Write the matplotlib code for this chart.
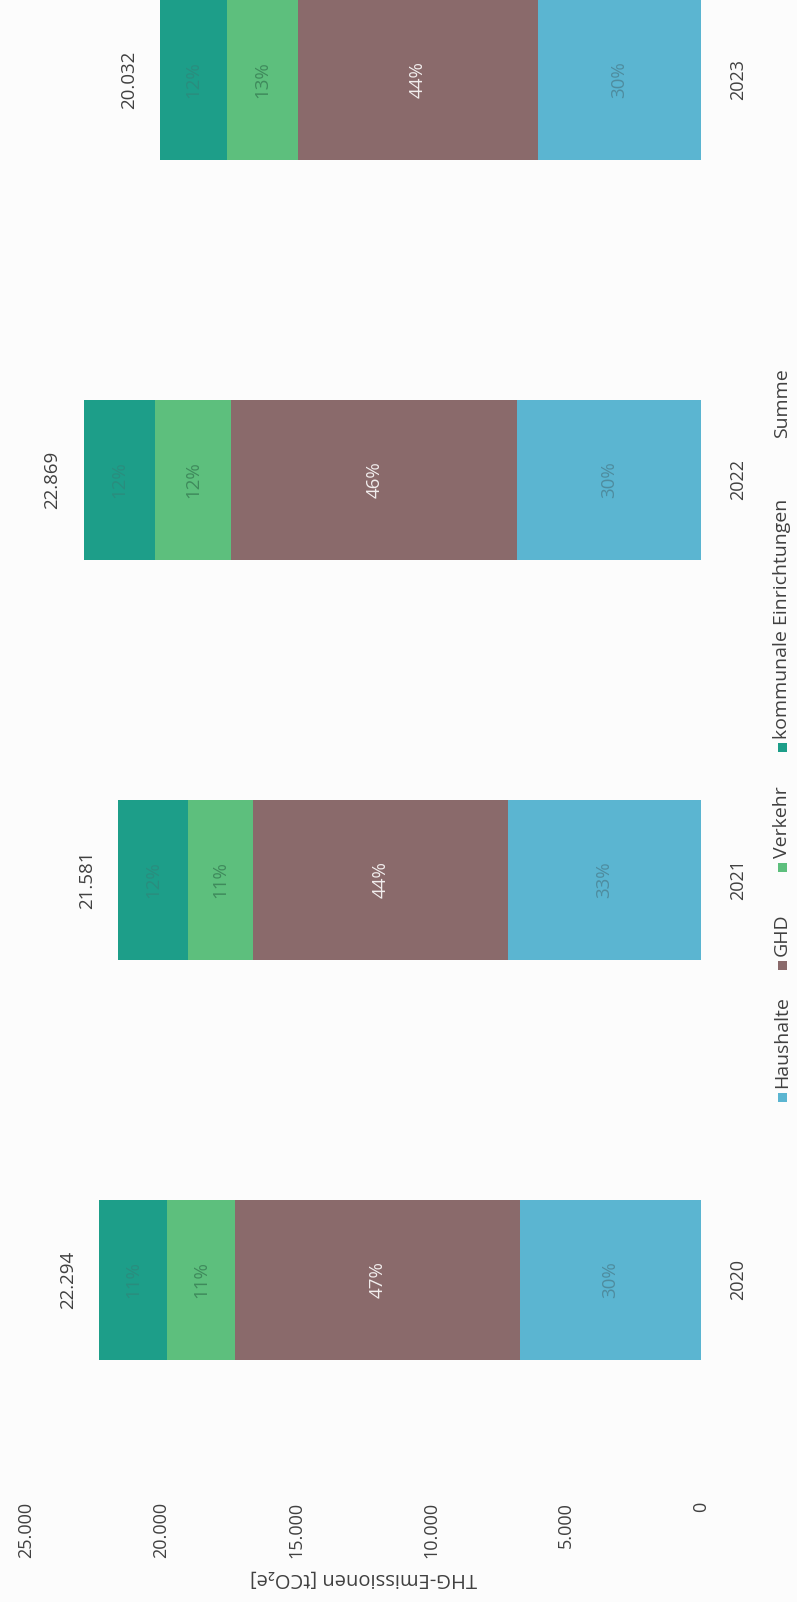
import matplotlib
matplotlib.use("Agg")
import matplotlib.pyplot as plt
from matplotlib.patches import Rectangle

# --- data -------------------------------------------------------------
years = ["2020", "2021", "2022", "2023"]
series_names = ["Haushalte", "GHD", "Verkehr", "kommunale Einrichtungen"]
haushalte = [6700, 7145, 6815, 6050]
ghd = [10550, 9430, 10580, 8870]
verkehr = [2540, 2440, 2820, 2640]
kommunal = [2504, 2566, 2654, 2472]
value_ticks = [0, 5000, 10000, 15000, 20000, 25000]
legend_extra = "Summe"

# --- style ------------------------------------------------------------
colors = ["#5bb5d1", "#8a6a6b", "#5dbf7d", "#1d9e89"]
pct_colors = ["#4e8c9f", "#f2eeee", "#3f8a5c", "#2a8d7e"]
text_col = "#404040"
FONT = ["Open Sans", "DejaVu Sans"]
plt.rcParams["font.family"] = FONT

W, H, DPI = 797, 1602, 100
fig = plt.figure(figsize=(W / DPI, H / DPI), dpi=DPI, facecolor="#fcfcfc")

# axes placed in pixel terms (value axis runs right-to-left, categories bottom-to-top)
x0_px, x1_px = 26, 701
ax_top_px, ax_bot_px = -120, 1480
ax = fig.add_axes([x0_px / W, 1 - ax_bot_px / H,
                   (x1_px - x0_px) / W, (ax_bot_px - ax_top_px) / H])
ax.set_facecolor("none")
ax.set_xlim(25000, 0)
ax.set_ylim(-0.5, 3.5)

series = [haushalte, ghd, verkehr, kommunal]
ypos = list(range(len(years)))
totals = [sum(v) for v in zip(*series)]
bar_h = 0.4

left = [0] * len(years)
for vals, col, pcol in zip(series, colors, pct_colors):
    ax.barh(ypos, vals, height=bar_h, left=left, color=col, edgecolor="none")
    for i, v in enumerate(vals):
        pct = round(v / totals[i] * 100)
        ax.text(left[i] + v / 2, ypos[i], f"{pct}%", rotation=90,
                ha="center", va="center", fontsize=13.5, color=pcol)
    left = [l + v for l, v in zip(left, vals)]

# sums beyond the end of each bar
for i, t in enumerate(totals):
    ax.annotate(f"{t:,}".replace(",", "."), xy=(t, ypos[i]),
                xytext=(-31, 0), textcoords="offset pixels", rotation=90,
                ha="center", va="center", fontsize=13.5, color=text_col)

# value axis
ax.set_xticks(value_ticks, [f"{v:,}".replace(",", ".") for v in value_ticks])
ax.tick_params(axis="x", length=0, pad=15.8, labelsize=13, labelcolor=text_col)
for lab in ax.get_xticklabels():
    lab.set_rotation(90)
    lab.set_ha("center")
    lab.set_va("top")
ax.set_xlabel("THG-Emissionen [tCO₂e]", rotation=180, fontsize=14.5,
              color=text_col)
ax.xaxis.set_label_coords(0.5, -(1578 - ax_bot_px) / (ax_bot_px - ax_top_px))
ax.xaxis.label.set_va("center")

# category axis on the right
ax.yaxis.tick_right()
ax.set_yticks(ypos, years)
ax.tick_params(axis="y", length=0, pad=26.6, labelsize=13, labelcolor=text_col)
for lab in ax.get_yticklabels():
    lab.set_rotation(90)
    lab.set_ha("center")
    lab.set_va("center")

for s in ax.spines.values():
    s.set_visible(False)

# legend, running upward along the right edge
leg_x_px = 782
leg_marker_px = [1097, 965, 867, 747, 447]
leg_entries = list(zip(series_names, colors)) + [(legend_extra, None)]
msz = 9
for (name, col), ym in zip(leg_entries, leg_marker_px):
    if col is not None:
        fig.patches.append(Rectangle(((leg_x_px - msz / 2) / W, 1 - (ym + msz / 2) / H),
                                     msz / W, msz / H, transform=fig.transFigure,
                                     facecolor=col, edgecolor="none"))
    fig.text(leg_x_px / W, 1 - (ym - msz / 2 - 4) / H, name, rotation=90,
             rotation_mode="anchor", ha="left", va="center", fontsize=14,
             color=text_col)

fig.savefig("out.png", dpi=DPI, facecolor=fig.get_facecolor())
